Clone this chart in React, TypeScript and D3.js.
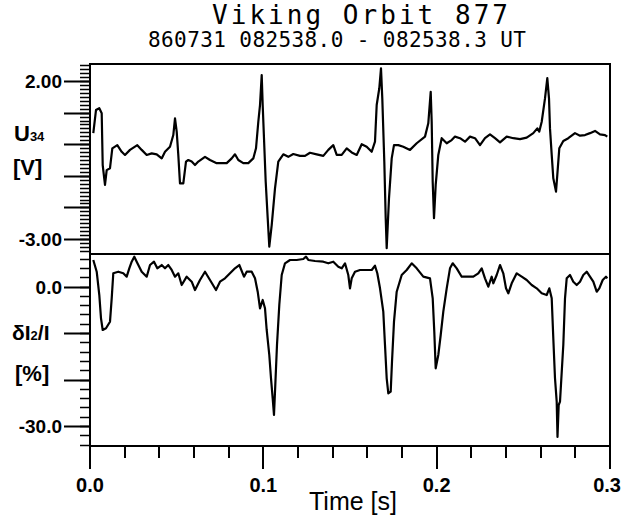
import React from "react";
import * as d3 from "d3";

// ---- data (time in ms) ----
const tU = [1.9,3.46,5.37,6.75,7.33,8.65,9.63,11.54,12.87,15.75,18.29,20.19,23.08,27.29,29.83,32.71,35.6,38.48,41.37,43.27,46.15,48.06,49.04,50.02,50.94,51.92,53.83,55.38,56.71,58.67,60.58,62.48,66.35,69.23,73.1,75.98,78.87,81.75,83.65,85.56,88.44,91.33,94.21,95.77,97.1,98.08,99.06,99.63,100.38,101.37,102.52,103.44,104.83,106.73,108.63,111.52,114.4,117.29,121.15,124.04,126.92,130.79,134.6,137.48,140.37,142.33,145.21,148.1,150.98,153.87,156.75,159.63,162.52,164.42,165.4,166.9,167.88,168.63,169.79,170.6,171.17,172.5,174.06,175.38,177.87,180.75,184.62,188.48,193.27,195.17,196.56,197.13,197.71,198.46,199.44,200.94,202.9,205.79,208.67,210.58,213.46,216.35,219.23,222.12,225,227.88,230.77,233.65,236.54,240.4,244.21,248.08,251.94,255.75,258.06,259.21,260.6,262.5,263.83,264.81,265.38,266.37,267.29,268.85,269.6,270.75,273.06,275.94,279.81,282.69,285.58,288.46,291.35,294.23,297.12,298.44];
const u34 = [0.35,1.08,1.14,0.98,-0.66,-1.29,-0.82,-0.76,-0.13,-0.03,-0.24,-0.34,-0.18,-0.03,-0.18,-0.34,-0.29,-0.32,-0.45,-0.24,-0.08,0.29,0.82,0.4,-0.34,-1.24,-1.24,-0.55,-0.5,-0.55,-0.66,-0.55,-0.4,-0.5,-0.6,-0.6,-0.6,-0.45,-0.32,-0.5,-0.6,-0.6,-0.45,-0.13,0.71,1.24,2.19,1.24,0.19,-1.19,-2.34,-3.24,-2.56,-1.4,-0.55,-0.32,-0.4,-0.31,-0.37,-0.37,-0.27,-0.32,-0.37,-0.18,-0.03,-0.34,-0.34,-0.13,-0.26,-0.34,0,-0.08,-0.24,0.08,1.24,1.77,2.4,1.45,-0.55,-2.34,-3.29,-1.71,-0.45,-0.03,-0.03,-0.08,-0.18,0.03,0.24,0.66,1.66,0.71,-1.19,-2.34,-1.29,-0.34,0.19,0.03,0.13,0.24,0.19,0.08,0.24,0.19,-0.03,0.19,0.31,0.19,0.06,0.24,0.19,0.16,0.21,0.35,0.5,0.4,0.71,1.45,2.09,1.45,0.5,-0.34,-1.08,-1.5,-0.97,-0.13,0.1,0.19,0.35,0.27,0.29,0.35,0.42,0.31,0.29,0.24];

const tI = [1.9,3.87,5.37,6.35,7.33,9.23,11.54,12.52,13.44,16.33,19.21,21.17,22.67,24.06,25.56,26.94,29.83,32.71,34.62,36.92,38.83,41.37,43.27,45.17,47.13,49.04,50.94,52.9,55.79,58.67,60.58,63.46,66.35,69.23,72.69,75,77.88,80.77,83.65,86.13,88.85,90.4,93.29,95.19,96.75,98.08,99.63,100.96,101.94,103.44,104.42,105.4,106.15,106.9,107.88,109.21,110.6,112.5,115.38,119.25,123.06,124.62,125.94,129.81,134.6,137.48,140.37,143.25,145.21,147.12,149.02,150,150.98,152.88,155.77,159.63,162.52,164.42,165.75,167.31,169.21,170.19,171.17,172.1,173.48,174.23,175.38,176.94,179.83,182.71,185.6,188.48,192.29,196.15,197.71,198.63,199.44,200.94,202.33,203.83,205.79,207.69,209.25,211.56,214.44,219.23,221.13,224.02,225.98,227.88,229.79,231.75,232.67,234.63,236.54,238.44,240,241.33,243.29,246.17,249.06,251.94,254.83,257.71,260.6,263.48,264.98,266.37,267.29,268.27,269.25,269.71,270.4,271.15,273.06,274.04,275.02,276.92,278.83,280.79,282.69,284.6,286.56,288.46,290.37,292.33,293.83,295.79,297.69,298.44];
const dI = [5.7,3.18,-1.83,-6.84,-9.35,-8.99,-7.57,-2.54,2.84,3.18,2.84,2.11,3.91,5.33,6.41,5.33,3.18,2.11,4.62,5.33,3.91,4.62,3.91,4.62,3.55,2.11,2.84,0.32,2.11,1.03,-0.75,1.4,3.18,1.4,-0.75,1.03,1.76,2.84,3.91,4.62,2.11,3.18,3.18,1.76,-1.12,-4.69,-2.9,-4.69,-9.35,-14.73,-19.74,-24.04,-27.63,-21.18,-12.58,-3.98,2.47,4.99,5.7,5.7,5.91,6.41,5.7,5.48,5.33,4.99,5.33,4.26,3.91,4.99,2.47,-0.39,1.76,3.18,3.55,3.55,3.55,4.47,2.84,-0.39,-5.42,-12.58,-19.74,-22.97,-22.62,-16.17,-7.57,-1.12,2.47,3.55,4.99,3.91,2.11,1.76,-2.54,-9.72,-17.59,-14.73,-10.43,-5.42,-0.39,3.91,4.99,3.91,2.11,2.11,2.11,2.84,3.91,1.76,-0.04,2.11,0.69,2.47,4.62,2.84,-0.39,-1.46,0.69,2.84,2.11,1.4,0.32,-0.39,-1.46,-1.83,-0.39,-2.54,-11.14,-19.74,-24.77,-32.37,-25.48,-24.77,-12.58,-2.54,1.76,2.47,1.03,0.32,1.03,2.47,3.18,2.11,1.03,-1.12,-0.39,1.4,2.11,1.76];

const xTickLabels = ["0.0", "0.1", "0.2", "0.3"];
const xTickVals = [0, 0.1, 0.2, 0.3];
const uTickVals = [2, -3];
const uTickLabels = ["2.00", "-3.00"];
const iTickVals = [0, -30];
const iTickLabels = ["0.0", "-30.0"];
const title = "Viking Orbit 877";
const subtitle = "860731 082538.0 - 082538.3 UT";

// ---- layout ----
const L = 90, R = 610;
const TOP = 64, MID = 254, BOT = 446;
const x = d3.scaleLinear().domain([0, 0.3]).range([L, R]);
const yU = d3.scaleLinear().domain([-3, 2]).range([239, 81]);
const yI = d3.scaleLinear().domain([-30, 0]).range([426, 286.5]);

const lineU = d3.line<number>().x((_, i) => x(tU[i] / 1000)).y((d) => yU(d));
const lineI = d3.line<number>().x((_, i) => x(tI[i] / 1000)).y((d) => yI(d));

const sans = "'Liberation Sans', Arial, Helvetica, sans-serif";
const mono = "'DejaVu Sans Mono', monospace";

export default function App() {
  const uTicks = d3.range(-28, 21).map((v) => v / 8).filter((v) => yU(v) > TOP + 1 && yU(v) < MID - 1);
  const iTicks = d3.range(-34, 8, 2).filter((v) => yI(v) > MID + 1 && yI(v) < BOT - 1);
  const xTicks = d3.range(0, 16).map((i) => i * 0.02);

  const minorPath = d3.path();
  uTicks.forEach((v) => {
    const yy = Math.round(yU(v)) + 0.5;
    minorPath.moveTo(L - 10, yy);
    minorPath.lineTo(L, yy);
  });
  iTicks.forEach((v) => {
    const yy = Math.round(yI(v)) + 0.5;
    minorPath.moveTo(L - 10, yy);
    minorPath.lineTo(L, yy);
  });
  const majorPath = d3.path();
  uTicks.filter((v) => Math.abs(v - Math.round(v)) < 1e-6).forEach((v) => {
    const yy = Math.round(yU(v)) + 0.5;
    majorPath.moveTo(L - 26, yy);
    majorPath.lineTo(L, yy);
  });
  iTicks.filter((v) => v % 10 === 0).forEach((v) => {
    const yy = Math.round(yI(v)) + 0.5;
    majorPath.moveTo(L - 26, yy);
    majorPath.lineTo(L, yy);
  });
  xTicks.forEach((v, i) => {
    const xx = Math.round(x(v));
    majorPath.moveTo(xx, BOT);
    majorPath.lineTo(xx, BOT + (i % 5 === 0 ? 23 : 12));
  });

  return (
    <svg width={622} height={519} style={{ position: "absolute", left: 0, top: 0, background: "#fff" }}>
      <rect width={622} height={519} fill="#fff" />
      <text x={360} y={24} fontFamily={mono} fontSize={26} textAnchor="middle" textLength={296} lengthAdjust="spacing" fill="#000">{title}</text>
      <text x={337} y={47} fontFamily={mono} fontSize={21} textAnchor="middle" textLength={378} lengthAdjust="spacing" fill="#000">{subtitle}</text>

      {/* frame */}
      <g stroke="#000" strokeWidth={2} fill="none">
        <rect x={L} y={TOP} width={R - L} height={BOT - TOP} />
        <line x1={L} x2={R} y1={MID} y2={MID} />
      </g>

      {/* ticks */}
      <path d={minorPath.toString()} stroke="#000" strokeWidth={1.6} fill="none" />
      <path d={majorPath.toString()} stroke="#000" strokeWidth={2} fill="none" />

      <g fontFamily={sans} fontSize={19} fontWeight="bold" fill="#000">
        {uTickVals.map((v, i) => (
          <text key={"ul" + i} x={62} y={yU(v) + 7} textAnchor="end">{uTickLabels[i]}</text>
        ))}
        {iTickVals.map((v, i) => (
          <text key={"il" + i} x={62} y={yI(v) + 7} textAnchor="end">{iTickLabels[i]}</text>
        ))}
        {xTickVals.map((v, i) => (
          <text key={"xl" + i} x={i === 3 ? 621 : x(v)} y={492} textAnchor={i === 3 ? "end" : "middle"} fontSize={20}>{xTickLabels[i]}</text>
        ))}
      </g>

      {/* axis titles */}
      <g fontFamily={sans} fill="#000" fontWeight="bold">
        <text x={14} y={141} fontSize={22}>U<tspan fontSize={13}>34</tspan></text>
        <text x={13} y={175} fontSize={22}>[V]</text>
        <text x={12} y={340} fontSize={21}>δI<tspan fontSize={13}>2</tspan>/I</text>
        <text x={15} y={381} fontSize={22}>[%]</text>
      </g>
      <text x={353} y={510} fontFamily={sans} fontSize={25} textAnchor="middle" fill="#000">Time [s]</text>

      {/* traces */}
      <path d={lineU(u34) || ""} fill="none" stroke="#000" strokeWidth={2.2} strokeLinejoin="round" />
      <path d={lineI(dI) || ""} fill="none" stroke="#000" strokeWidth={2.2} strokeLinejoin="round" />
    </svg>
  );
}
